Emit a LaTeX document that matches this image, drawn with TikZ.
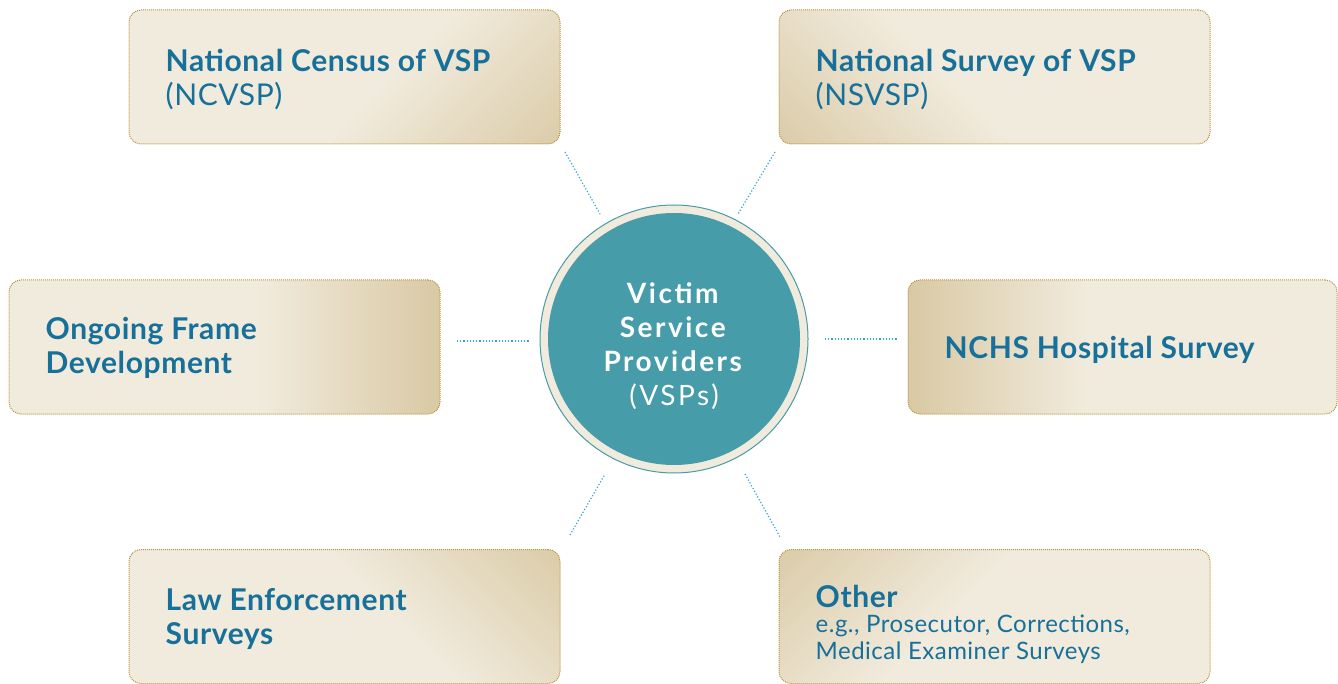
\documentclass[tikz,border=0pt]{standalone}
\usepackage{fontspec}
\setmainfont[LetterSpace=2]{Lato}
\newfontfamily\circfont[LetterSpace=9]{Lato}
\definecolor{boxlight}{HTML}{F1EBDD}
\definecolor{boxdark}{HTML}{D9C9A4}
\definecolor{boxedge}{HTML}{B8923A}
\definecolor{txtblue}{HTML}{17709A}
\definecolor{vspteal}{HTML}{469CA8}
\definecolor{ringcream}{HTML}{F0EBDD}
\definecolor{linkblue}{HTML}{3AA6D6}
\pgfdeclarehorizontalshading{sidefade}{100bp}{color(0bp)=(boxlight); color(25bp)=(boxlight); color(54bp)=(boxlight); color(75bp)=(boxdark); color(100bp)=(boxdark)}
\pgfdeclarehorizontalshading{diagfade}{100bp}{color(0bp)=(boxlight); color(56bp)=(boxlight); color(88bp)=(boxdark); color(100bp)=(boxdark)}
\newcommand{\smalltext}{\fontsize{24}{27}\selectfont}
\tikzset{
  boxbase/.style={shape=rectangle, rounded corners=12pt, minimum width=431pt, minimum height=134pt, inner sep=0pt,
    draw=boxedge, densely dotted, line width=1pt},
  sidebox/.style={boxbase, shade, shading=sidefade},
  cornerbox/.style={boxbase, shade, shading=diagfade},
  boxtxt/.style={anchor=west, align=left, inner sep=0pt, text=txtblue, font=\fontsize{30}{34}\selectfont},
  link/.style={draw=linkblue, dotted, line width=1.2pt},
}
\begin{document}
\begin{tikzpicture}[x=1pt,y=-1pt]
\useasboundingbox (0,0) rectangle (1338,684);
% boxes
\node[cornerbox, shading angle=-45] (ncvsp) at (344.5,77) {};
\node[cornerbox, shading angle=-135] (nsvsp) at (994.5,77) {};
\node[sidebox, shading angle=0] (ongoing) at (224.5,347) {};
\node[sidebox, shading angle=180, minimum width=429pt] (nchs) at (1122.5,347) {};
\node[cornerbox, shading angle=45] (law) at (344.5,616.5) {};
\node[cornerbox, shading angle=135] (other) at (994.5,616.5) {};
% texts
\node[boxtxt] (t1) at ([xshift=37pt,yshift=-3pt]ncvsp.west) {\textbf{National Census of VSP}\\(NCVSP)};
\node[boxtxt] (t2) at ([xshift=37pt,yshift=-3pt]nsvsp.west) {\textbf{National Survey of VSP}\\(NSVSP)};
\node[boxtxt] (t3) at ([xshift=37pt,yshift=-1pt]ongoing.west) {\textbf{Ongoing Frame}\\\textbf{Development}};
\node[boxtxt] (t4) at ([xshift=37pt,yshift=-3pt]nchs.west) {\textbf{NCHS Hospital Survey}};
\node[boxtxt] (t5) at ([xshift=37pt,yshift=-2pt]law.west) {\textbf{Law Enforcement}\\\textbf{Surveys}};
\node[boxtxt] (t6) at ([xshift=37pt,yshift=-8pt]other.west) {\textbf{Other}\\[-9pt]{\smalltext e.g., Prosecutor, Corrections,}\\[-7pt]{\smalltext Medical Examiner Surveys}};
% center circle
\node[circle, minimum size=268pt, inner sep=0pt, fill=ringcream, draw=vspteal, line width=1pt] (ring) at (674,339) {};
\node[circle, minimum size=252pt, inner sep=0pt, fill=vspteal] (hub) at (674,339) {};
\node[align=center, inner sep=0pt, text=white, font=\circfont\fontsize{28}{34}\selectfont] (hubtxt) at (674,346)
  {\textbf{Victim}\\\textbf{Service}\\\textbf{Providers}\\(VSPs)};
% connectors
\coordinate (c1a) at (565,152); \coordinate (c1b) at (600,214);
\coordinate (c2a) at (775,152); \coordinate (c2b) at (738,214);
\coordinate (c3a) at (457,341); \coordinate (c3b) at (530,341);
\coordinate (c4a) at (825,339); \coordinate (c4b) at (898,339);
\coordinate (c5a) at (570,535); \coordinate (c5b) at (605,474);
\coordinate (c6a) at (745,474); \coordinate (c6b) at (780,537);
\draw[link] (c1a) -- (c1b);
\draw[link] (c2a) -- (c2b);
\draw[link] (c3a) -- (c3b);
\draw[link] (c4a) -- (c4b);
\draw[link] (c5a) -- (c5b);
\draw[link] (c6a) -- (c6b);
\end{tikzpicture}
\end{document}
